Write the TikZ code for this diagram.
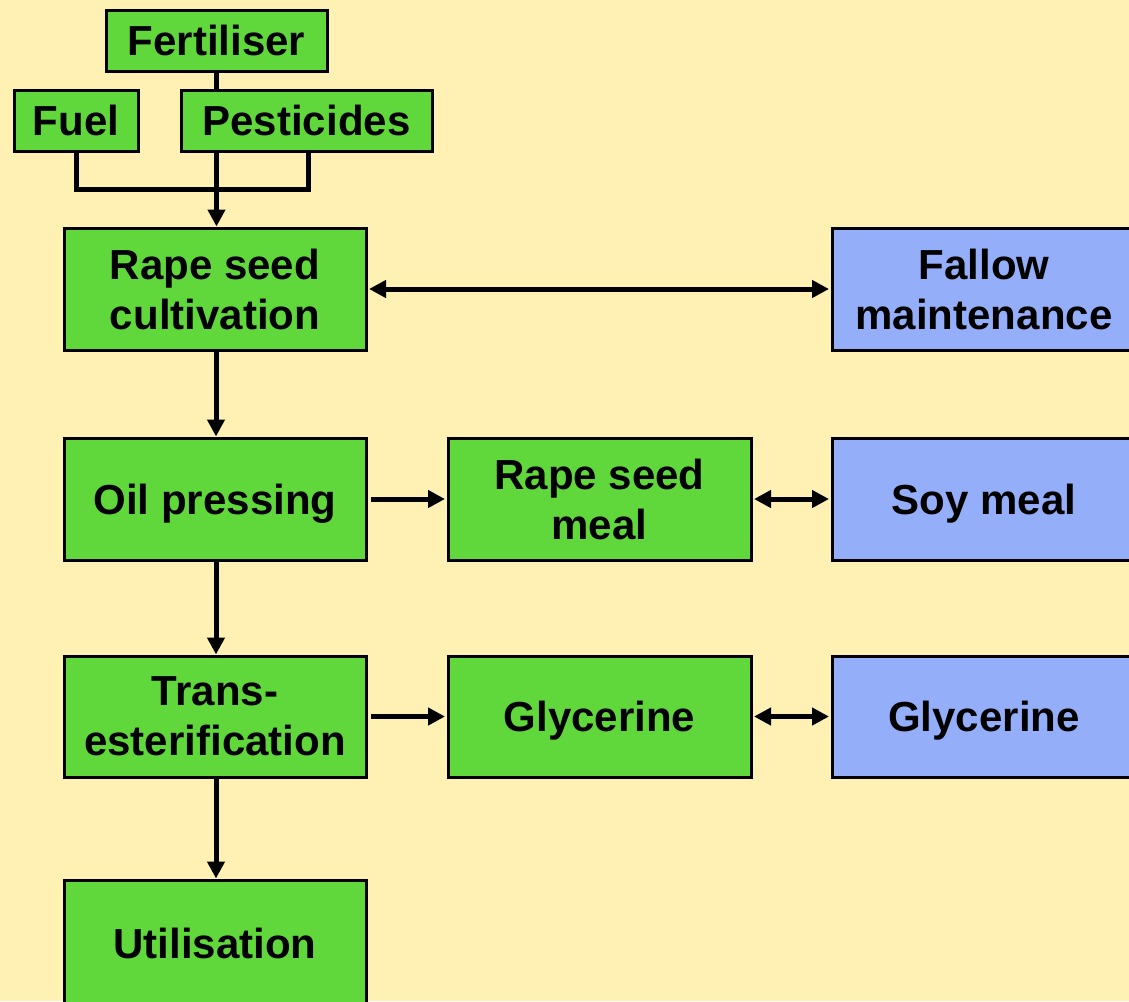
\documentclass[tikz,border=0pt]{standalone}
\usepackage{fontspec}
\setmainfont{Liberation Sans}
\usetikzlibrary{arrows.meta}
\definecolor{bg}{RGB}{255,241,180}
\definecolor{gbox}{RGB}{96,216,60}
\definecolor{bbox}{RGB}{148,174,250}
\tikzset{
  box/.style={draw=black, line width=3pt, rectangle, inner sep=0pt, align=center,
    font=\fontsize{42}{50}\selectfont\bfseries, text depth=0pt},
  gr/.style={box, fill=gbox},
  bl/.style={box, fill=bbox},
  tip/.tip={Triangle[length=17pt,width=17pt]},
  conn/.style={line width=5pt, -tip},
  dconn/.style={line width=5pt, tip-tip},
  plain/.style={line width=5pt}
}
\begin{document}
\begin{tikzpicture}[x=1pt,y=-1pt]
\useasboundingbox (0,0) rectangle (1129,1001);
\clip (0,0) rectangle (1129,1001);
\fill[bg] (0,0) rectangle (1129,1001);
% top inputs
\node[gr, minimum width=221pt, minimum height=61pt] (fert) at (216.5,40.5) {Fertiliser};
\node[gr, minimum width=124pt, minimum height=61pt] (fuel) at (76,120.5) {Fuel};
\node[gr, minimum width=251pt, minimum height=61pt] (pest) at (306.5,120.5) {Pesticides};
% main column
\node[gr, minimum width=302pt, minimum height=122pt] (rape) at (215,289) {Rape seed\\cultivation};
\node[gr, minimum width=302pt, minimum height=122pt] (oil) at (215,499) {Oil pressing};
\node[gr, minimum width=302pt, minimum height=121pt] (trans) at (215,716.5) {Trans-\\esterification};
\node[gr, minimum width=302pt, minimum height=126pt] (util) at (215,943) {Utilisation};
% middle column
\node[gr, minimum width=303pt, minimum height=122pt] (meal) at (599.5,499) {Rape seed\\meal};
\node[gr, minimum width=303pt, minimum height=121pt] (glyc) at (599.5,716.5) {Glycerine};
% right column
\node[bl, minimum width=304pt, minimum height=122pt] (fallow) at (984,289) {Fallow\\maintenance};
\node[bl, minimum width=304pt, minimum height=122pt] (soy) at (984,499) {Soy meal};
\node[bl, minimum width=304pt, minimum height=121pt] (glyc2) at (984,716.5) {Glycerine};
% input connectors
\coordinate (join) at (216,189);
\draw[plain] ([yshift=1.5pt]fert.south) -- ([yshift=-1.5pt]pest.north -| fert.south);
\draw[plain] ([yshift=1.5pt]fuel.south) |- (join) -| ([yshift=1.5pt]pest.south -| 308,0);
\draw[conn] ([yshift=1.5pt]pest.south -| fert.south) -- (rape.north -| fert.south);
% main flow
\draw[dconn] ([xshift=1.5pt]rape.east) -- ([xshift=-1.5pt]fallow.west);
\draw[conn] ([yshift=1.5pt]rape.south -| 216,0) -- (oil.north -| 216,0);
\draw[conn] ([yshift=1.5pt]oil.south -| 216,0) -- (trans.north -| 216,0);
\draw[conn] ([yshift=1.5pt]trans.south -| 216,0) -- (util.north -| 216,0);
\draw[conn] ([xshift=3pt]oil.east) -- ([xshift=-1.5pt]meal.west);
\draw[conn] ([xshift=3pt]trans.east) -- ([xshift=-1.5pt]glyc.west);
\draw[dconn] ([xshift=1.5pt]meal.east) -- ([xshift=-1.5pt]soy.west);
\draw[dconn] ([xshift=1.5pt]glyc.east) -- ([xshift=-1.5pt]glyc2.west);
\end{tikzpicture}
\end{document}
